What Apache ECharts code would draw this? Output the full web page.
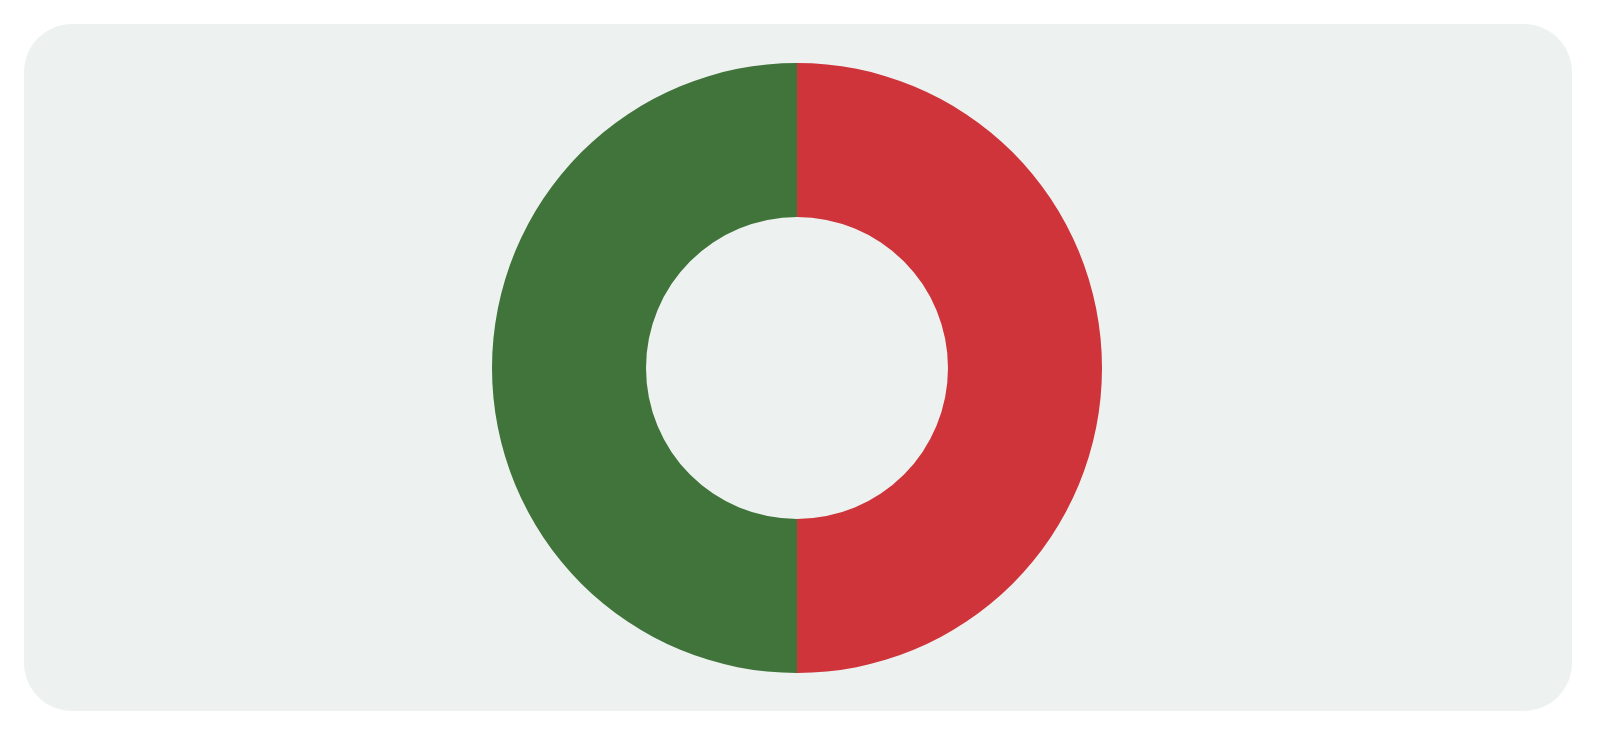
<!DOCTYPE html>
<html lang="en">
<head>
    <meta charset="UTF-8" />
    <title>Donut</title>
    <script src="https://cdn.jsdelivr.net/npm/echarts@6/dist/echarts.min.js"></script>
    <style>
        html, body {
            margin: 0;
            padding: 0;
            background: #ffffff;
            width: 1600px;
            height: 738px;
            overflow: hidden;
        }
        .panel {
            position: absolute;
            left: 24px;
            top: 24px;
            width: 1548px;
            height: 687px;
            background: #edf2f0;
            border-radius: 48px;
        }
        #chart {
            position: absolute;
            left: 0;
            top: 0;
            width: 1600px;
            height: 738px;
        }
    </style>
</head>
<body>
    <div class="panel"></div>
    <div id="chart"></div>

    <script>
        // slices go clockwise from 12 o'clock
        const sliceNames = ['B', 'A'];
        const sliceValues = [50, 50];
        const sliceColors = ['#cf343a', '#41743a'];

        const chart = echarts.init(document.getElementById('chart'), null, { renderer: 'canvas' });

        chart.setOption({
            animation: false,
            backgroundColor: 'transparent',
            series: [{
                type: 'pie',
                center: [797, 368],
                radius: [151, 305],
                startAngle: 90,
                clockwise: true,
                label: { show: false },
                labelLine: { show: false },
                emphasis: { disabled: true },
                itemStyle: { borderWidth: 0 },
                data: sliceNames.map((n, i) => ({
                    name: n,
                    value: sliceValues[i],
                    itemStyle: { color: sliceColors[i] }
                }))
            }]
        });
    </script>
</body>
</html>
